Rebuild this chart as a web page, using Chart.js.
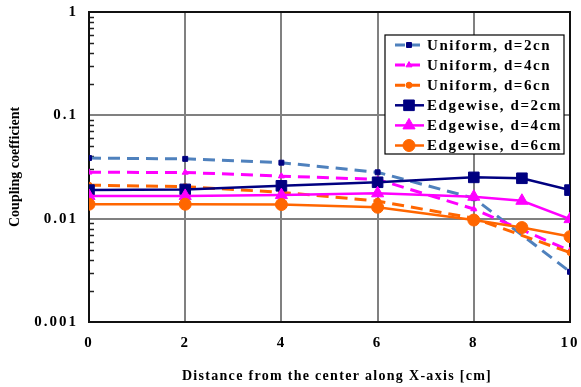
<!DOCTYPE html>
<html>
<head>
<meta charset="utf-8">
<script src="https://cdn.jsdelivr.net/npm/chart.js@4.4.0/dist/chart.umd.min.js"></script>
<style>
  html, body { margin: 0; padding: 0; background: #fff; }
  #wrap { width: 581px; height: 387px; }
</style>
</head>
<body>
<div id="wrap"><canvas id="coupling-chart" width="581" height="387"></canvas></div>
<script>
// Positions along the X axis [cm]
const uniformX = [0, 2, 4, 6, 8, 10];
const edgewiseX = [0, 2, 4, 6, 8, 9, 10];

// Coupling coefficient per series
const uniformD2 = [0.0386, 0.0379, 0.0348, 0.0281, 0.0158, 0.00306];
const uniformD4 = [0.0281, 0.0280, 0.0258, 0.0240, 0.0124, 0.0049];
const uniformD6 = [0.0211, 0.0204, 0.0180, 0.0148, 0.0101, 0.0047];
const edgewiseD2 = [0.0189, 0.0192, 0.0208, 0.0225, 0.0251, 0.0246, 0.0189];
const edgewiseD4 = [0.0166, 0.0166, 0.0169, 0.0176, 0.0163, 0.0149, 0.0099];
const edgewiseD6 = [0.0138, 0.0138, 0.0137, 0.0129, 0.0097, 0.0082, 0.0067];

const seriesLabels = [
    'Uniform, d=2cn', 'Uniform, d=4cn', 'Uniform, d=6cn',
    'Edgewise, d=2cm', 'Edgewise, d=4cm', 'Edgewise, d=6cm'
];

const yTickValues = [0.001, 0.01, 0.1, 1];

const xTitle = 'Distance from the center along X-axis [cm]';
const yTitle = 'Coupling coefficient';

const FONT = '"Liberation Serif", "Times New Roman", serif';

function toPoints(xs, ys) {
    return xs.map((x, i) => ({ x: x, y: ys[i] }));
}

function uniformSet(label, ys, color, markerColor, style, radius, order) {
    return {
        label: label,
        data: toPoints(uniformX, ys),
        borderColor: color,
        borderWidth: 3,
        borderDash: [12, 7],
        pointStyle: style,
        pointRadius: radius,
        pointBackgroundColor: markerColor,
        pointBorderColor: markerColor,
        pointBorderWidth: 1,
        tension: 0,
        order: order
    };
}

function edgewiseSet(label, ys, color, style, radius, order) {
    return {
        label: label,
        data: toPoints(edgewiseX, ys),
        borderColor: color,
        borderWidth: 2.5,
        pointStyle: style,
        pointRadius: radius,
        pointBackgroundColor: color,
        pointBorderColor: color,
        pointBorderWidth: 1,
        tension: 0,
        order: order
    };
}

// Frame, inward minor ticks on the log axis
const framePlugin = {
    id: 'frame',
    beforeDraw(chart) {
        chart.ctx.letterSpacing = '2px';
    },
    beforeDatasetsDraw(chart) {
        const ctx = chart.ctx;
        const area = chart.chartArea;
        const yScale = chart.scales.y;
        ctx.save();
        ctx.strokeStyle = '#222';
        ctx.lineWidth = 1.5;
        for (let decade = 0.001; decade < 1; decade *= 10) {
            for (let k = 2; k <= 9; k++) {
                const y = Math.round(yScale.getPixelForValue(k * decade)) + 0.5;
                ctx.beginPath();
                ctx.moveTo(area.left, y);
                ctx.lineTo(area.left + 5, y);
                ctx.stroke();
            }
        }
        ctx.strokeStyle = '#111';
        ctx.lineWidth = 2;
        ctx.strokeRect(area.left, area.top, area.right - area.left, area.bottom - area.top);
        ctx.restore();
    }
};

// Axis titles with their own letter spacing
const titlePlugin = {
    id: 'axisTitles',
    afterDraw(chart) {
        const ctx = chart.ctx;
        ctx.save();
        ctx.fillStyle = '#000';
        ctx.font = 'bold 14px ' + FONT;
        ctx.textBaseline = 'middle';

        ctx.letterSpacing = '1.3px';
        ctx.textAlign = 'center';
        ctx.fillText(xTitle, 337, 376);

        ctx.letterSpacing = '0px';
        ctx.translate(15, 227);
        ctx.rotate(-Math.PI / 2);
        ctx.textAlign = 'left';
        ctx.fillText(yTitle, 0, 0);
        ctx.restore();
    }
};

// Boxed legend inside the plot, top right
const legendPlugin = {
    id: 'boxLegend',
    afterDraw(chart) {
        const ctx = chart.ctx;
        const box = { left: 385, top: 35, right: 564, bottom: 154 };
        ctx.save();
        ctx.fillStyle = '#fff';
        ctx.fillRect(box.left, box.top, box.right - box.left, box.bottom - box.top);
        ctx.strokeStyle = '#000';
        ctx.lineWidth = 1.2;
        ctx.strokeRect(box.left, box.top, box.right - box.left, box.bottom - box.top);

        ctx.beginPath();
        ctx.rect(box.left, box.top, box.right - box.left, box.bottom - box.top);
        ctx.clip();

        chart.data.datasets.forEach((ds, i) => {
            const y = 45 + i * 20.1;
            ctx.save();
            ctx.strokeStyle = ds.borderColor;
            ctx.lineWidth = ds.borderWidth;
            ctx.setLineDash(ds.borderDash ? [10, 5] : []);
            ctx.beginPath();
            ctx.moveTo(395, y);
            ctx.lineTo(424, y);
            ctx.stroke();
            ctx.setLineDash([]);
            ctx.fillStyle = ds.pointBackgroundColor;
            ctx.strokeStyle = ds.pointBorderColor;
            ctx.lineWidth = 1;
            Chart.helpers.drawPoint(ctx, {
                pointStyle: ds.pointStyle,
                radius: ds.pointRadius,
                rotation: 0,
                borderWidth: 1
            }, 409, y);
            ctx.restore();

            ctx.fillStyle = '#000';
            ctx.font = 'bold 15px ' + FONT;
            ctx.letterSpacing = '1.6px';
            ctx.textAlign = 'left';
            ctx.textBaseline = 'middle';
            ctx.fillText(ds.label, 427, y + 1);
        });
        ctx.restore();
    }
};

const ctx = document.getElementById('coupling-chart').getContext('2d');

const couplingChart = new Chart(ctx, {
    type: 'line',
    data: {
        datasets: [
            uniformSet(seriesLabels[0], uniformD2, '#4F81BD', '#000080', 'rect', 3.5, 5),
            uniformSet(seriesLabels[1], uniformD4, '#FF00FF', '#FF00FF', 'triangle', 3.5, 4),
            uniformSet(seriesLabels[2], uniformD6, '#FF6600', '#FF6600', 'circle', 3, 3),
            edgewiseSet(seriesLabels[3], edgewiseD2, '#000080', 'rect', 7.5, 2),
            edgewiseSet(seriesLabels[4], edgewiseD4, '#FF00FF', 'triangle', 7, 1),
            edgewiseSet(seriesLabels[5], edgewiseD6, '#FF6600', 'circle', 6, 0)
        ]
    },
    options: {
        responsive: false,
        animation: false,
        layout: {
            padding: { top: 12, right: 11, left: 0, bottom: 0 }
        },
        plugins: {
            legend: { display: false },
            tooltip: { enabled: false }
        },
        scales: {
            x: {
                type: 'linear',
                min: 0,
                max: 10,
                afterFit: function(scale) {
                    scale.height = 65;
                    scale.paddingLeft = 0;
                    scale.paddingRight = 0;
                },
                ticks: {
                    stepSize: 2,
                    padding: 12,
                    color: '#000',
                    font: { family: FONT, size: 15, weight: 'bold' }
                },
                grid: {
                    drawTicks: false,
                    lineWidth: 2,
                    color: function(c) {
                        const v = c.tick ? c.tick.value : null;
                        return (v === 0 || v === 10) ? 'rgba(0,0,0,0)' : '#808080';
                    }
                },
                border: { display: false }
            },
            y: {
                type: 'logarithmic',
                min: 0.001,
                max: 1,
                afterFit: function(scale) {
                    scale.width = 89;
                    scale.paddingTop = 0;
                    scale.paddingBottom = 0;
                },
                afterBuildTicks: function(scale) {
                    scale.ticks = yTickValues.map(v => ({ value: v }));
                },
                ticks: {
                    padding: 11,
                    color: '#000',
                    font: { family: FONT, size: 15, weight: 'bold' },
                    callback: function(value) { return String(value); }
                },
                grid: {
                    drawTicks: false,
                    lineWidth: 2,
                    color: function(c) {
                        const v = c.tick ? c.tick.value : null;
                        return (v === 0.1 || v === 0.01) ? '#808080' : 'rgba(0,0,0,0)';
                    }
                },
                border: { display: false }
            }
        }
    },
    plugins: [framePlugin, titlePlugin, legendPlugin]
});
</script>
</body>
</html>
